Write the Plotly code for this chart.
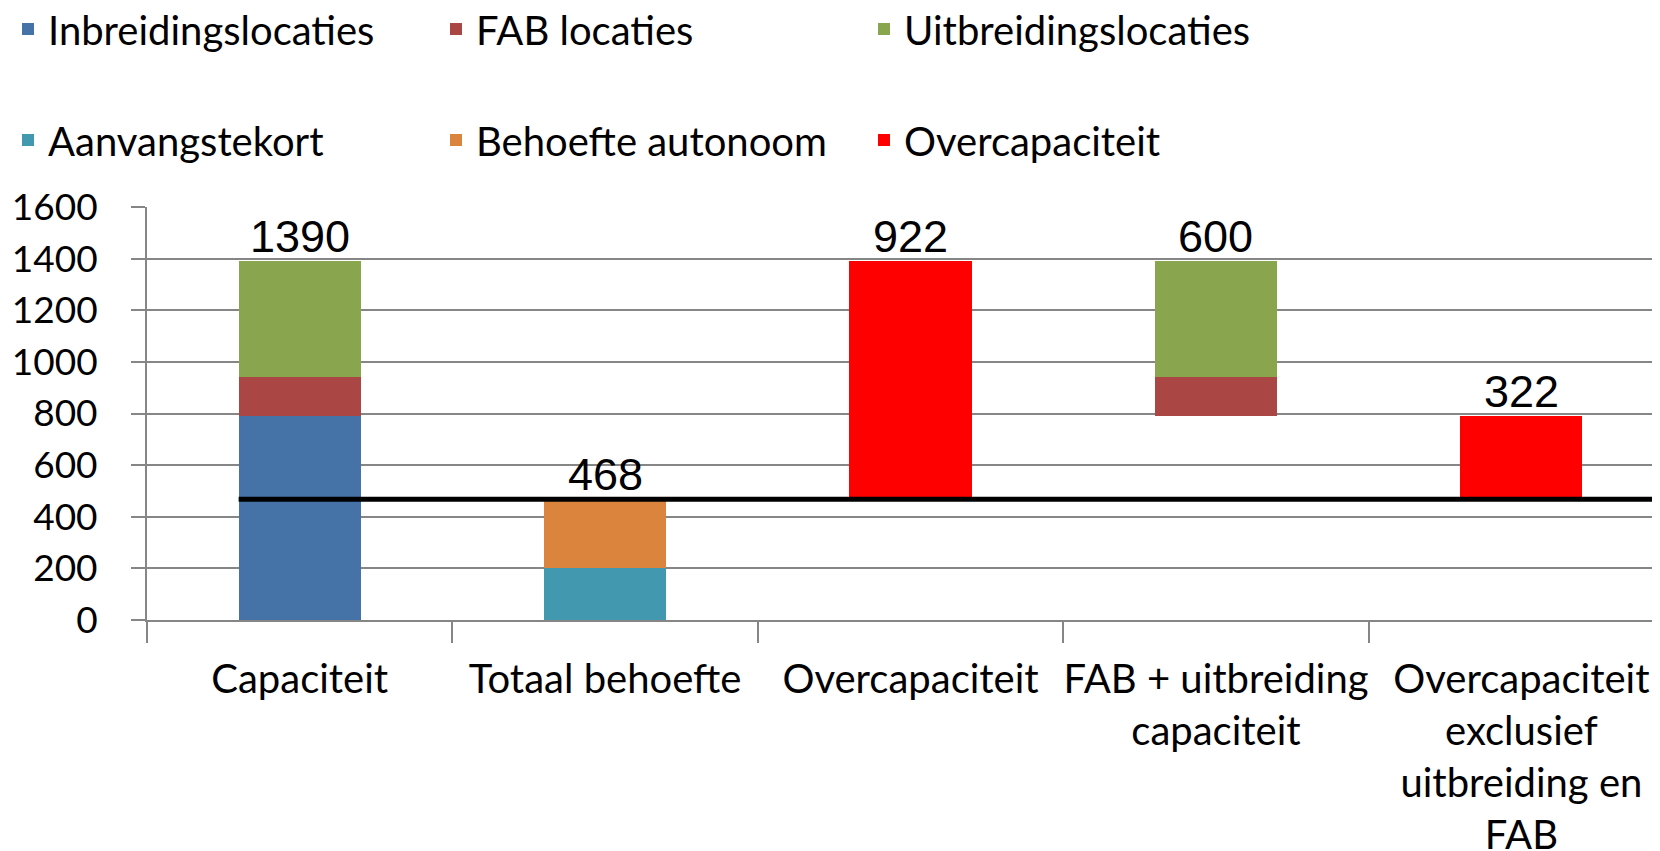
import plotly.graph_objects as go

categories = ["Capaciteit", "Totaal behoefte", "Overcapaciteit",
              "FAB + uitbreiding<br>capaciteit",
              "Overcapaciteit<br>exclusief<br>uitbreiding en<br>FAB"]

basis = [0, 0, 468, 790, 468]           # invisible offset
inbreiding = [790, 0, 0, 0, 0]
fab = [150, 0, 0, 150, 0]
uitbreiding = [450, 0, 0, 450, 0]
aanvangstekort = [0, 200, 0, 0, 0]
behoefte_autonoom = [0, 268, 0, 0, 0]
overcapaciteit = [0, 0, 922, 0, 322]
behoefte_lijn = 468
y_ticks = [0, 200, 400, 600, 800, 1000, 1200, 1400, 1600]

GRID = "#868686"
FONT = "Lato"

def nz(v):
    return [x if x else None for x in v]

fig = go.Figure()
fig.add_trace(go.Bar(x=categories, y=nz(basis), marker_color="rgba(0,0,0,0)",
                     marker_line_width=0, showlegend=False, hoverinfo="skip"))

series = [
    ("Inbreidingslocaties", inbreiding, "#4572A7", "legend"),
    ("Aanvangstekort", aanvangstekort, "#4198AF", "legend2"),
    ("FAB locaties", fab, "#AA4643", "legend"),
    ("Behoefte autonoom", behoefte_autonoom, "#DB843D", "legend2"),
    ("Uitbreidingslocaties", uitbreiding, "#89A54E", "legend"),
    ("Overcapaciteit", overcapaciteit, "#FF0000", "legend2"),
]
legend_rank = {"Inbreidingslocaties": 1, "FAB locaties": 2, "Uitbreidingslocaties": 3,
               "Aanvangstekort": 1, "Behoefte autonoom": 2, "Overcapaciteit": 3}
for name, vals, col, lg in series:
    fig.add_trace(go.Bar(x=categories, y=nz(vals), name=name, marker_color=col,
                         marker_line_width=0, legend=lg,
                         legendrank=legend_rank[name]))

# totals labels
annotations = []
for i, c in enumerate(categories):
    seg = inbreiding[i] + fab[i] + uitbreiding[i] + aanvangstekort[i] + behoefte_autonoom[i] + overcapaciteit[i]
    top = basis[i] + seg
    annotations.append(dict(x=c, y=top, text=str(seg), showarrow=False, yanchor="bottom",
                            yshift=-3, font=dict(family="Liberation Sans", size=45, color="black")))

bar_half = 0.2
fig.add_shape(type="line", xref="x", yref="y", x0=0 - bar_half, x1=4.43,
              y0=behoefte_lijn, y1=behoefte_lijn, line=dict(color="black", width=5))

fig.update_layout(
    width=1660, height=851,
    margin=dict(l=139, r=0, t=199, b=239, autoexpand=False),
    paper_bgcolor="white", plot_bgcolor="white",
    barmode="stack", bargap=0.6,
    annotations=annotations,
    font=dict(family=FONT, size=40, color="black"),
    legend=dict(orientation="h", xref="container", yref="container", x=-0.0012, y=1 - 21 / 851,
                xanchor="left", yanchor="middle", entrywidth=383, traceorder="normal",
                font=dict(family=FONT, size=40, color="black")),
    legend2=dict(orientation="h", xref="container", yref="container", x=-0.0012, y=1 - 132 / 851,
                 xanchor="left", yanchor="middle", entrywidth=383, traceorder="normal",
                 font=dict(family=FONT, size=40, color="black")),
    xaxis=dict(type="category", range=[-0.5, 4.48], tickson="boundaries", ticks="outside",
               ticklen=21, tickwidth=2, tickcolor=GRID, showline=True, linecolor=GRID,
               linewidth=2, showgrid=False, tickangle=0, automargin=False,
               tickfont=dict(family=FONT, size=40, color="black"),
               ticklabelstandoff=23),
    yaxis=dict(range=[0, 1600], tickvals=y_ticks, ticks="outside", ticklen=14, tickwidth=2,
               tickcolor=GRID, showgrid=True, gridcolor=GRID, gridwidth=2, showline=True,
               linecolor=GRID, linewidth=2, zeroline=False, automargin=False,
               tickfont=dict(family=FONT, size=37, color="black"), ticklabelstandoff=26),
)

fig.write_html("out.html")
